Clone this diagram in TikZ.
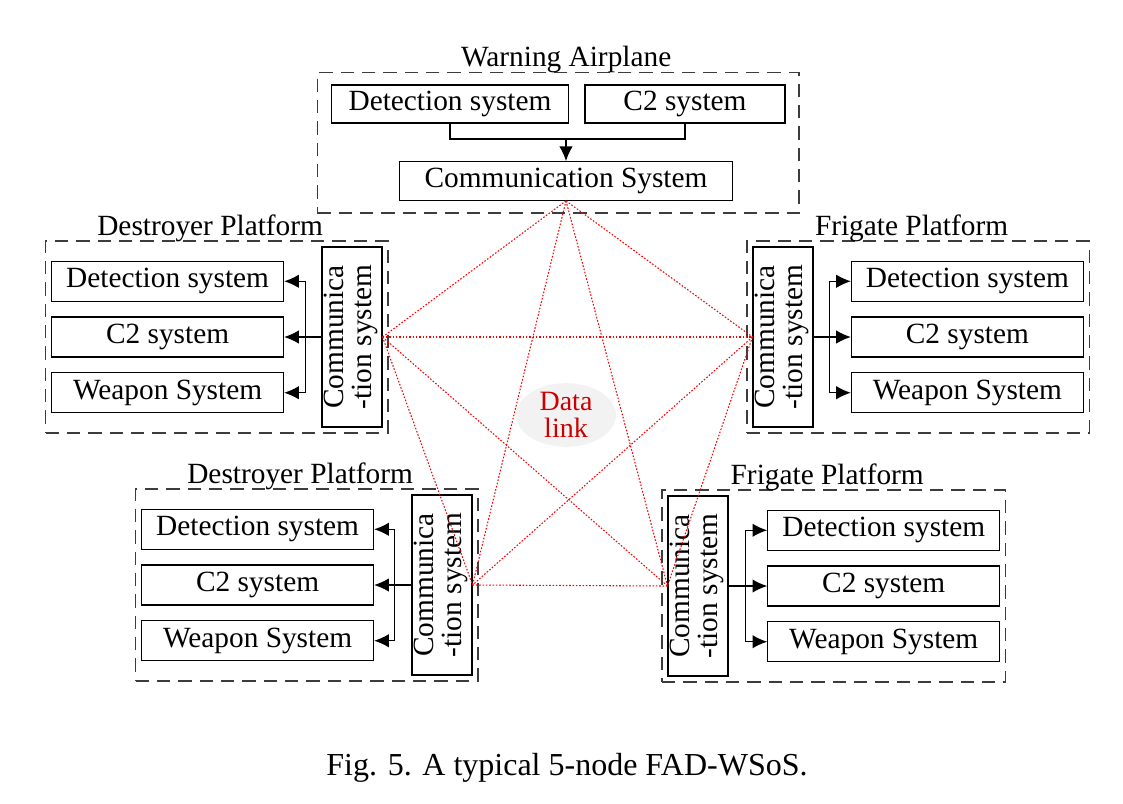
\documentclass[tikz,border=0pt]{standalone}
\usepackage{fontspec}
\setmainfont{Liberation Serif}
\usepackage{graphicx}
\usetikzlibrary{shapes,arrows,arrows.meta,positioning,fit,backgrounds}
\definecolor{linkred}{RGB}{204,0,0}
\definecolor{boxgray}{RGB}{60,60,60}
\newcommand{\commlabel}{\rotatebox{90}{\begin{tabular}{@{}c@{}}Communica\\-tion system\end{tabular}}}

\begin{document}
\begin{tikzpicture}[
    x=0.75pt, y=-0.75pt,
    font=\fontsize{22}{21}\selectfont,
    sysbox/.style={rectangle, draw, line width=0.8pt, minimum width=174pt, minimum height=30pt, inner sep=0pt},
    combox/.style={rectangle, draw, line width=0.8pt, minimum width=45pt, minimum height=135pt, inner sep=0pt},
    platform/.style={draw=boxgray, dash pattern=on 10pt off 6pt, line width=1pt, inner sep=4pt},
    title/.style={inner sep=0pt},
    arrow/.style={-{Latex[length=11pt,width=10pt]}, line width=0.9pt},
    datalink/.style={red, dash pattern=on 1.2pt off 1.3pt, line width=0.8pt},
    linkcloud/.style={ellipse, fill=gray!10, minimum width=75pt, minimum height=47pt, inner sep=0pt, align=center, text=linkred, font=\fontsize{21}{20}\selectfont}
]
\useasboundingbox (0,0) rectangle (1123,803);

% Warning airplane
\node[sysbox, minimum width=250pt, minimum height=29pt] (wacom) at (566,181) {Communication System};
\node[sysbox, minimum width=178pt, minimum height=28.5pt] (wadet) at (450,104) {Detection system};
\node[sysbox, minimum width=150pt, minimum height=28.5pt] (wac2) at (685,104) {C2 system};
\coordinate (wajoin) at (566,139);
\draw[line width=0.9pt] (wadet) |- (wajoin) -| (wac2);
\draw[arrow] (wajoin) -- (wacom);
\node[platform, fit=(wadet) (wac2) (wacom), inner xsep=10pt, inner ysep=9pt] (wabox) {};
\node[title, above=-1pt of wabox, xshift=6pt] (watitle) {Warning Airplane};

% Destroyer platform, upper left
\node[combox] (d1com) at (352,337) {\commlabel};
\node[sysbox, left=28pt of d1com] (d1c2) {C2 system};
\node[sysbox, above=11pt of d1c2] (d1det) {Detection system};
\node[sysbox, below=11pt of d1c2] (d1wpn) {Weapon System};
\coordinate[left=12pt of d1com] (d1bus);
\draw[arrow] (d1com) -- (d1c2);
\draw[arrow] (d1bus) |- (d1det);
\draw[arrow] (d1bus) |- (d1wpn);
\node[platform, fit=(d1det) (d1wpn) (d1com)] (d1box) {};
\node[title, above=-1pt of d1box, xshift=-5pt] (d1title) {Destroyer Platform};

% Frigate platform, upper right
\node[combox] (f1com) at (783,337) {\commlabel};
\node[sysbox, right=28pt of f1com] (f1c2) {C2 system};
\node[sysbox, above=11pt of f1c2] (f1det) {Detection system};
\node[sysbox, below=11pt of f1c2] (f1wpn) {Weapon System};
\coordinate[right=12pt of f1com] (f1bus);
\draw[arrow] (f1com) -- (f1c2);
\draw[arrow] (f1bus) |- (f1det);
\draw[arrow] (f1bus) |- (f1wpn);
\node[platform, fit=(f1det) (f1wpn) (f1com)] (f1box) {};
\node[title, above=-1pt of f1box, xshift=-5pt] (f1title) {Frigate Platform};

% Destroyer platform, lower left
\node[combox] (d2com) at (442,585) {\commlabel};
\node[sysbox, left=28pt of d2com] (d2c2) {C2 system};
\node[sysbox, above=11pt of d2c2] (d2det) {Detection system};
\node[sysbox, below=11pt of d2c2] (d2wpn) {Weapon System};
\coordinate[left=12.5pt of d2com] (d2bus);
\draw[arrow] (d2com) -- (d2c2);
\draw[arrow] (d2bus) |- (d2det);
\draw[arrow] (d2bus) |- (d2wpn);
\node[platform, fit=(d2det) (d2wpn) (d2com)] (d2box) {};
\node[title, above=-1pt of d2box, xshift=-5pt] (d2title) {Destroyer Platform};

% Frigate platform, lower right
\node[combox] (f2com) at (698,586) {\commlabel};
\node[sysbox, right=29pt of f2com] (f2c2) {C2 system};
\node[sysbox, above=11pt of f2c2] (f2det) {Detection system};
\node[sysbox, below=11pt of f2c2] (f2wpn) {Weapon System};
\coordinate[right=13pt of f2com] (f2bus);
\draw[arrow] (f2com) -- (f2c2);
\draw[arrow] (f2bus) |- (f2det);
\draw[arrow] (f2bus) |- (f2wpn);
\node[platform, fit=(f2det) (f2wpn) (f2com)] (f2box) {};
\node[title, above=-1pt of f2box, xshift=-5pt] (f2title) {Frigate Platform};

% Data link
\node[linkcloud] (datalink) at (566,415) {Data\\link};
\draw[datalink] (wacom.south) -- (d1com.east);
\draw[datalink] (wacom.south) -- (f1com.west);
\draw[datalink] (wacom.south) -- (d2com.east);
\draw[datalink] (wacom.south) -- (f2com.west);
\draw[datalink] (d1com.east) -- (f1com.west);
\draw[datalink] (d1com.east) -- (d2com.east);
\draw[datalink] (d1com.east) -- (f2com.west);
\draw[datalink] (f1com.west) -- (d2com.east);
\draw[datalink] (f1com.west) -- (f2com.west);
\draw[datalink] (d2com.east) -- (f2com.west);

% Caption
\node[font=\fontsize{24}{28}\selectfont] (caption) at (567,768) {Fig. 5. A typical 5-node FAD-WSoS.};

\end{tikzpicture}
\end{document}
